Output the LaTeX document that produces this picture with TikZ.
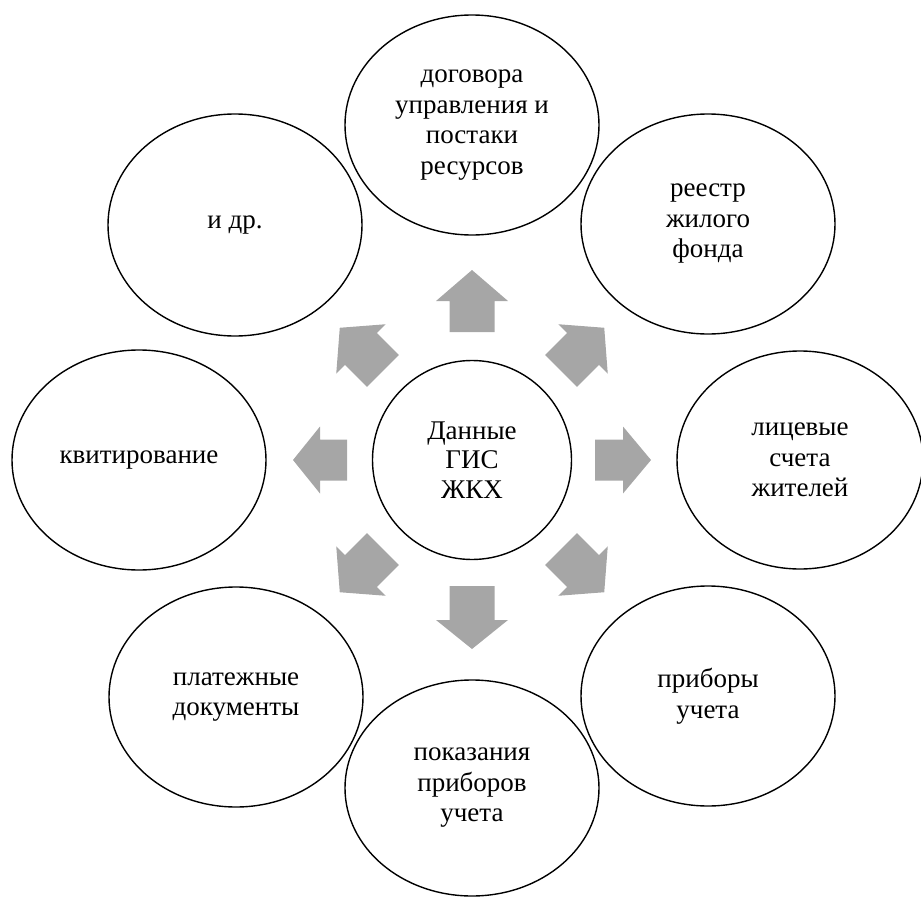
\documentclass[tikz,border=0pt]{standalone}
\usepackage{fontspec}
\setmainfont{Liberation Serif}
\usetikzlibrary{shapes.geometric}
\definecolor{arrowgray}{RGB}{166,166,166}
\tikzset{
  outer/.style={ellipse, draw=black, line width=1.4pt, minimum width=254pt, minimum height=220pt, inner sep=0pt, align=center, font=\fontsize{27}{30.5}\selectfont},
  hub/.style={circle, draw=black, line width=1.4pt, minimum size=199pt, inner sep=0pt, align=center, font=\fontsize{27}{29.5}\selectfont},
  blockarrow/.style={fill=arrowgray}
}
\newcommand\grarrow[6]{%
  \begin{scope}[shift={(hub.center)}, rotate=#1]
    \fill[blockarrow] (#2,-#5) -- (#3,-#5) -- (#3,-#6) -- (#4,0) -- (#3,#6) -- (#3,#5) -- (#2,#5) -- cycle;
  \end{scope}}
\begin{document}
\begin{tikzpicture}[x=1pt,y=-1pt]
\useasboundingbox (0,0) rectangle (921,899);
\node[hub] (hub) at (472,460) {Данные\\ГИС\\ЖКХ};
\node[outer] (top) at (472,125) {договора\\управления и\\постаки\\ресурсов};
\node[outer] (tr) at (708,224) {реестр\\жилого\\фонда};
\node[outer, minimum width=246pt, minimum height=218pt] (right) at (800,460) {лицевые\\счета\\жителей};
\node[outer] (br) at (708,696) {приборы\\учета};
\node[outer, minimum height=216pt] (bottom) at (472,788) {показания\\приборов\\учета};
\node[outer] (bl) at (236,697) {платежные\\документы};
\node[outer] (left) at (139,460) {квитирование};
\node[outer, minimum height=222pt] (tl) at (235,225) {и др.};
% block arrows
\grarrow{90}{128}{159}{190}{22.5}{36}
\grarrow{-90}{126}{160}{189}{22.5}{36}
\grarrow{0}{123}{151}{179}{20.5}{33.5}
\grarrow{180}{125}{152}{179}{20.5}{33.5}
\grarrow{45}{126}{157}{187}{22.5}{35}
\grarrow{135}{126}{157}{187}{22.5}{35}
\grarrow{-45}{126}{157}{187}{22.5}{35}
\grarrow{-135}{126}{157}{187}{22.5}{35}
\end{tikzpicture}
\end{document}
